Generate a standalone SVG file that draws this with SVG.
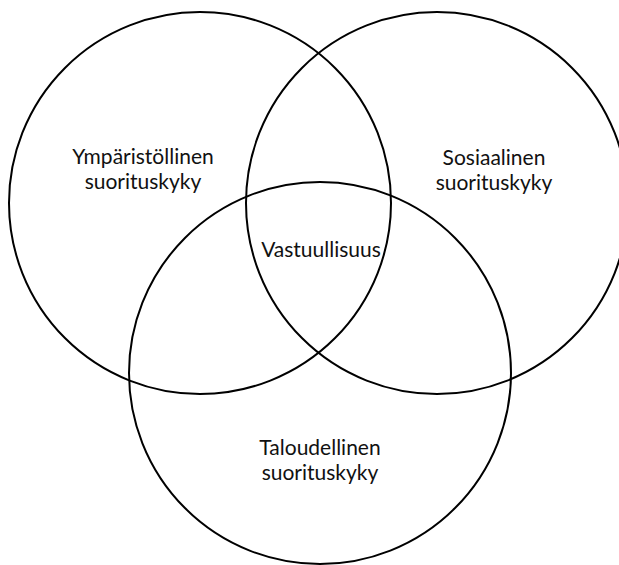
<svg xmlns="http://www.w3.org/2000/svg" width="619" height="565" viewBox="0 0 619 565">
  <style>
    .ring { fill: none; stroke: #000; stroke-width: 2; }
    .label { font-family: Lato, "Open Sans", "Liberation Sans", sans-serif; font-size: 21px; fill: #111; text-anchor: middle; }
  </style>
  <rect width="619" height="565" fill="#fff"/>
  <g id="ymparisto">
    <circle class="ring" cx="200" cy="203" r="191"/>
    <text class="label" x="143" y="164">Ympäristöllinen</text>
    <text class="label" x="143" y="189">suorituskyky</text>
  </g>
  <g id="sosiaalinen">
    <circle class="ring" cx="437" cy="203" r="191"/>
    <text class="label" x="494" y="165">Sosiaalinen</text>
    <text class="label" x="494" y="190">suorituskyky</text>
  </g>
  <g id="taloudellinen">
    <circle class="ring" cx="320" cy="373" r="191"/>
    <text class="label" x="320" y="455">Taloudellinen</text>
    <text class="label" x="320" y="480">suorituskyky</text>
  </g>
  <g id="vastuullisuus">
    <text class="label" x="321" y="257">Vastuullisuus</text>
  </g>
  <g id="connectors"/>
</svg>
